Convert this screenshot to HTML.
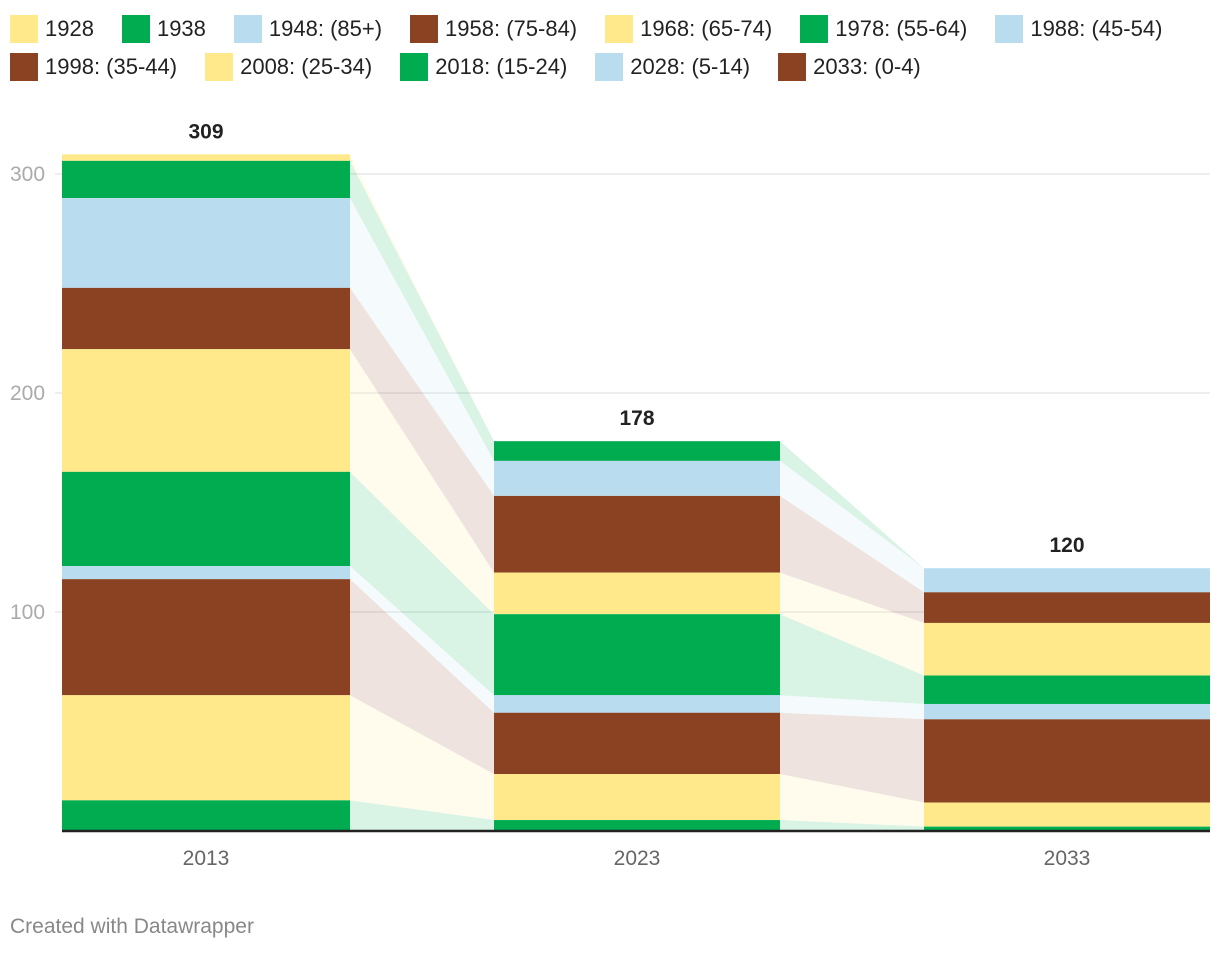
<!DOCTYPE html>
<html><head><meta charset="utf-8">
<style>
body{margin:0;background:#fff;font-family:"Liberation Sans",Arial,sans-serif;}
#wrap{position:relative;width:1220px;height:954px;overflow:hidden;}
.legend{position:absolute;left:10px;top:11px;width:1210px;font-size:22px;color:#222;}
.li{display:inline-flex;align-items:center;margin-right:28px;height:36px;}
.sw{width:28px;height:28px;margin-right:7px;display:inline-block;}
.foot{position:absolute;left:10px;top:915px;font-size:21px;color:#888;}
</style></head><body>
<div id="wrap">
<div class="legend" id="legend"></div>
<svg id="chart" width="1220" height="954" style="position:absolute;left:0;top:0"></svg>
<div class="foot">Created with Datawrapper</div>
</div>
<script>
const years = ["2013","2023","2033"];
const seriesNames = ["1928","1938","1948: (85+)","1958: (75-84)","1968: (65-74)","1978: (55-64)","1988: (45-54)","1998: (35-44)","2008: (25-34)","2018: (15-24)","2028: (5-14)","2033: (0-4)"];
const v1928 = [3,0,0];
const v1938 = [17,9,0];
const v1948 = [41,16,11];
const v1958 = [28,35,14];
const v1968 = [56,19,24];
const v1978 = [43,37,13];
const v1988 = [6,8,7];
const v1998 = [53,28,38];
const v2008 = [48,21,11];
const v2018 = [14,5,2];
const v2028 = [0,0,0];
const v2033 = [0,0,0];
const yTicks = [100,200,300];

const values=[v1928,v1938,v1948,v1958,v1968,v1978,v1988,v1998,v2008,v2018,v2028,v2033];
const colors=["#ffe98a","#00ac4f","#b9ddef","#8b4223"];
const NS="http://www.w3.org/2000/svg";
const svg=document.getElementById('chart');
const y0=831, ppu=2.19;
const yS=v=>y0-v*ppu;
const barX=[62,494,924], barW=[288,286,286];

const leg=document.getElementById('legend');
seriesNames.forEach((n,i)=>{
  const d=document.createElement('span');d.className='li';
  
  
  d.innerHTML='<span class="sw" style="background:'+colors[i%4]+'"></span>'+n;
  leg.appendChild(d);
});

function el(t,a){const e=document.createElementNS(NS,t);for(const k in a)e.setAttribute(k,a[k]);svg.appendChild(e);return e;}
yTicks.forEach(t=>{
  const l=el('line',{x1:55,x2:1210,y1:yS(t),y2:yS(t),stroke:'#ddd','stroke-width':1});
  
  
  const tx=el('text',{x:10,y:yS(t)+7,'font-size':21,fill:'#aaa'});tx.textContent=t;
  
  
});
const bounds=years.map((y,j)=>{let acc=0;const b=[];for(let i=values.length-1;i>=0;i--){b[i]=[acc,acc+values[i][j]];acc+=values[i][j];}return b;});
for(let j=0;j<years.length-1;j++){
  for(let i=0;i<values.length;i++){
    const a=bounds[j][i],b=bounds[j+1][i];
    if(a[1]-a[0]<=0&&b[1]-b[0]<=0)continue;
    const xa=barX[j]+barW[j],xb=barX[j+1];
    const p=el('polygon',{points:`${xa},${yS(a[0])} ${xa},${yS(a[1])} ${xb},${yS(b[1])} ${xb},${yS(b[0])}`,fill:colors[i%4],'fill-opacity':0.15});
    
    
  }
}
years.forEach((yr,j)=>{
  let total=0;
  for(let i=0;i<values.length;i++){
    const b=bounds[j][i];total+=values[i][j];
    if(b[1]-b[0]<=0)continue;
    const r=el('rect',{x:barX[j],y:yS(b[1]),width:barW[j],height:(b[1]-b[0])*ppu,fill:colors[i%4]});
    
    
  }
  const t=el('text',{x:barX[j]+barW[j]/2,y:yS(total)-16,'text-anchor':'middle','font-size':21,'font-weight':'bold',fill:'#222'});t.textContent=total;
  
  
  const xl=el('text',{x:barX[j]+barW[j]/2,y:865,'text-anchor':'middle','font-size':21,fill:'#666'});xl.textContent=yr;
  
  
});
const base=el('line',{x1:62,x2:1210,y1:y0,y2:y0,stroke:'#222','stroke-width':2.5});


</script>
</body></html>
